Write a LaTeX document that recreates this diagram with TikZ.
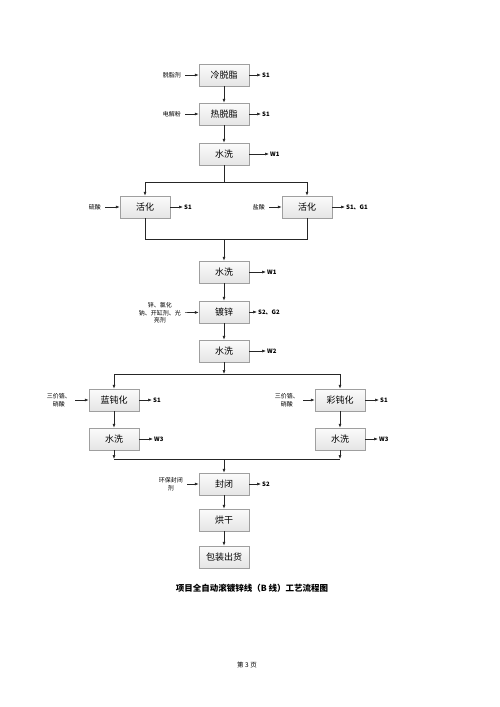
\documentclass[tikz,border=0pt]{standalone}
\usepackage{fontspec}
\setmainfont{Noto Sans CJK SC}
\usetikzlibrary{arrows.meta, shadows}

\begin{document}
\begin{tikzpicture}
        [
        x=1pt, y=-1pt,
        proc/.style={draw=gray!75, top color=gray!3, bottom color=gray!20, minimum width=50pt, minimum height=22pt, inner sep=0pt, font=\fontsize{9}{10}\selectfont, drop shadow={shadow xshift=0.8pt, shadow yshift=-0.8pt, opacity=0.35}},
        feed/.style={anchor=east, align=center, inner xsep=4pt, inner ysep=1pt, font=\fontsize{6}{7.5}\selectfont},
        waste/.style={anchor=west, inner sep=1pt, font=\fontsize{6}{7}\selectfont\bfseries},
        link/.style={draw=black!85, line width=0.65pt},
        arrow/.style={link, -{Latex[length=4pt, width=3pt]}}
        ]

        \useasboundingbox (0,0) rectangle (500,707);

        \node[proc] (cold) at (224,75) {冷脱脂};
        \node[proc] (hot) at (224,114) {热脱脂};
        \node[proc] (washA) at (224,154) {水洗};
        \node[proc] (actL) at (145,207) {活化};
        \node[proc] (actR) at (307,207) {活化};
        \node[proc] (washB) at (224,272) {水洗};
        \node[proc] (zinc) at (224,312) {镀锌};
        \node[proc] (washC) at (224,351) {水洗};
        \node[proc] (blue) at (114,400) {蓝钝化};
        \node[proc] (washL) at (114,439) {水洗};
        \node[proc] (color) at (340,400) {彩钝化};
        \node[proc] (washR) at (340,439) {水洗};
        \node[proc] (seal) at (224,484) {封闭};
        \node[proc] (dry) at (224,520) {烘干};
        \node[proc] (pack) at (224,557) {包装出货};

        \node[feed] (coldIn) at (185,75) {脱脂剂};
        \node[feed] (hotIn) at (185,114) {电解粉};
        \node[feed] (actLIn) at (105,207) {硫酸};
        \node[feed] (actRIn) at (269,207) {盐酸};
        \node[feed] (zincIn) at (185,313) {锌、氯化\\钠、开缸剂、光\\亮剂};
        \node[feed] (blueIn) at (75,400) {三价铬、\\硝酸};
        \node[feed] (colorIn) at (303,400) {三价铬、\\硝酸};
        \node[feed] (sealIn) at (187,484) {环保封闭\\剂};

        \node[waste] (coldOut) at (261,75) {S1};
        \node[waste] (hotOut) at (261,114) {S1};
        \node[waste] (washAOut) at (269,154) {W1};
        \node[waste] (actLOut) at (183,207) {S1};
        \node[waste] (actROut) at (345,207) {S1、G1};
        \node[waste] (washBOut) at (266,272) {W1};
        \node[waste] (zincOut) at (257,312) {S2、G2};
        \node[waste] (washCOut) at (266,351) {W2};
        \node[waste] (blueOut) at (152,400) {S1};
        \node[waste] (washLOut) at (153,439) {W3};
        \node[waste] (colorOut) at (379,400) {S1};
        \node[waste] (washROut) at (378,439) {W3};
        \node[waste] (sealOut) at (261,484) {S2};

        \coordinate (splitA) at (224,182);
        \coordinate (mergeA) at (224,239);
        \coordinate (splitB) at (224,374);
        \coordinate (mergeL) at (114,459);
        \coordinate (mergeR) at (340,459);
        \coordinate (mergeB) at (224,459);

        \draw[arrow] (cold) -- (hot);
        \draw[arrow] (hot) -- (washA);
        \draw[link] (washA) -- (splitA);
        \draw[arrow] (splitA) -| (actL);
        \draw[arrow] (splitA) -| (actR);
        \draw[link] (actL) |- (mergeA);
        \draw[link] (actR) |- (mergeA);
        \draw[arrow] (mergeA) -- (washB);
        \draw[arrow] (washB) -- (zinc);
        \draw[arrow] (zinc) -- (washC);
        \draw[arrow] (washC) -- (splitB);
        \draw[arrow] (splitB) -| (blue);
        \draw[arrow] (splitB) -| (color);
        \draw[arrow] (blue) -- (washL);
        \draw[arrow] (color) -- (washR);
        \draw[arrow] (washL) -- (mergeL);
        \draw[arrow] (washR) -- (mergeR);
        \draw[link] (mergeL) -- (mergeR);
        \draw[arrow] (mergeB) -- (seal);
        \draw[arrow] (seal) -- (dry);
        \draw[arrow] (dry) -- (pack);

        \foreach \src/\dst in {coldIn/cold, hotIn/hot, actLIn/actL, actRIn/actR, zincIn/zinc, blueIn/blue, colorIn/color, sealIn/seal}
            \draw[arrow] (\src) -- (\dst);
        \foreach \src/\dst in {cold/coldOut, hot/hotOut, washA/washAOut, actL/actLOut, actR/actROut, washB/washBOut, zinc/zincOut, washC/washCOut, blue/blueOut, washL/washLOut, color/colorOut, washR/washROut, seal/sealOut}
            \draw[arrow] (\src) -- (\dst);

        \node[font=\fontsize{8.5}{10}\selectfont\bfseries] (title) at (252,588) {项目全自动滚镀锌线（B 线）工艺流程图};
        \node[font=\fontsize{6.5}{8}\selectfont] (page) at (247,665) {第 3 页};

    \end{tikzpicture}
\end{document}
